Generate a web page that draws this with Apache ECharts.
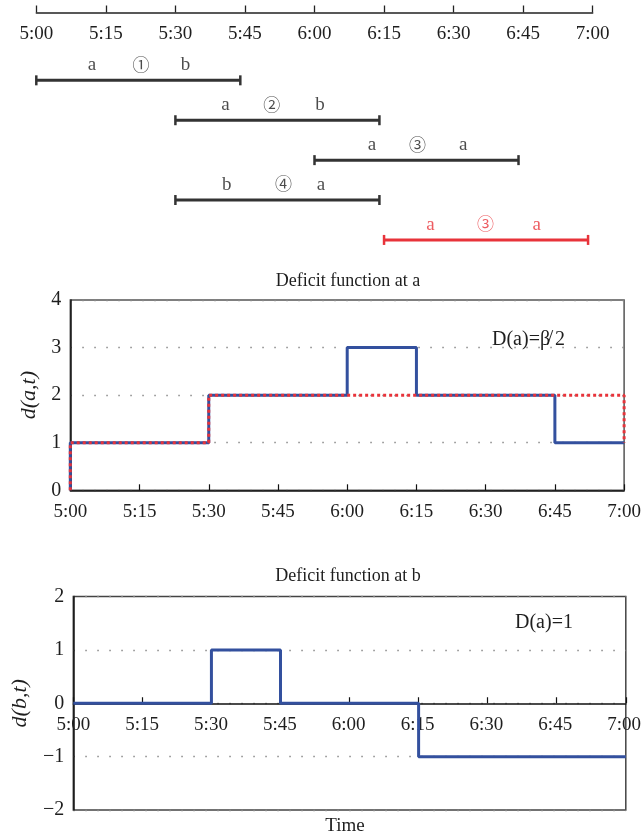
<!DOCTYPE html>
<html><head><meta charset="utf-8">
<script src="https://cdn.jsdelivr.net/npm/echarts@6/dist/echarts.min.js"></script>
<style>html,body{margin:0;padding:0;background:#fff}#c{width:644px;height:837px}</style>
</head><body><div id="c"></div>
<script>
// ---- data (minutes after 5:00) ----
const tickLabels = ['5:00','5:15','5:30','5:45','6:00','6:15','6:30','6:45','7:00'];
const tripStart = [0, 30, 60, 30, 75];
const tripEnd = [44, 74, 104, 74, 119];
const tripText = [['a','①','b'],['a','②','b'],['a','③','a'],['b','④','a'],['a','③','a']];
const tripTextAt = [[12,22.6,32.2],[40.8,50.8,61.2],[72.4,82.2,92.1],[41.1,53.3,61.4],[85,96.9,107.9]];
const tripHighlighted = [false,false,false,false,true];

const deficitA_t = [0, 0, 30, 60, 75, 105, 120];
const deficitA_v = [0, 1, 2, 3, 2, 1, 1];
const boundA_t = [0, 0, 30, 120, 120];
const boundA_v = [0, 1, 2, 2, 1];
const deficitB_t = [0, 30, 45, 75, 120];
const deficitB_v = [0, 1, 0, -1, -1];

// ---- style ----
const SERIF = "'Liberation Serif','DejaVu Serif',serif";
const CIRC = "'Noto Sans CJK JP','DejaVu Sans',sans-serif";
const BLUE = '#33509e', RED = '#e8333a', DARK = '#333', TXT = '#1e1e1e';

const pairs = (t, v) => t.map((x, i) => [x, v[i]]);
const timeFmt = v => tickLabels[Math.round(v / 15)] || '';

const series = [];
tripStart.forEach((s, i) => {
  const col = tripHighlighted[i] ? RED : DARK;
  series.push({
    type: 'line', xAxisIndex: 0, yAxisIndex: 0, silent: true, animation: false,
    data: [[s, i + 1], [tripEnd[i], i + 1]],
    symbol: 'rect', symbolSize: [2.5, 10], showSymbol: true,
    itemStyle: { color: col }, lineStyle: { color: col, width: 3 }
  });
  series.push({
    type: 'scatter', xAxisIndex: 0, yAxisIndex: 0, silent: true, animation: false,
    symbolSize: 1, itemStyle: { color: 'rgba(0,0,0,0)' },
    data: tripText[i].map((txt, k) => {
      const circ = /[①-⑳]/.test(txt);
      return {
        value: [tripTextAt[i][k], i + 1], name: txt,
        label: circ ? { fontFamily: CIRC, fontSize: 17, offset: [0, -16] } : {}
      };
    }),
    label: {
      show: true, position: 'inside', offset: [0, -15],
      formatter: p => p.name,
      color: tripHighlighted[i] ? RED : TXT,
      fontFamily: SERIF, fontSize: 19
    }
  });
});

series.push({
  type: 'line', xAxisIndex: 1, yAxisIndex: 1, step: 'end', symbol: 'none', animation: false,
  data: pairs(deficitA_t, deficitA_v), lineStyle: { color: BLUE, width: 3 }, z: 3
});
series.push({
  type: 'line', xAxisIndex: 1, yAxisIndex: 1, step: 'end', symbol: 'none', animation: false,
  data: pairs(boundA_t, boundA_v), lineStyle: { color: RED, width: 3, type: [3, 3] }, z: 4
});
series.push({
  type: 'line', xAxisIndex: 2, yAxisIndex: 2, step: 'end', symbol: 'none', animation: false,
  data: pairs(deficitB_t, deficitB_v), lineStyle: { color: BLUE, width: 3 }, z: 3
});

const dotted = { show: true, lineStyle: { color: '#8a8a8a', width: 1.3, type: [1.5, 10.5] } };
const labelStyle = { formatter: timeFmt, color: TXT, fontFamily: SERIF, fontSize: 19, margin: 12 };
const chartX = (idx, showLabels) => ({
  type: 'value', gridIndex: idx, min: 0, max: 120, interval: 15,
  axisLine: { show: true, onZero: true, lineStyle: { color: '#111', width: 1.5 } },
  axisTick: { show: true, inside: true, length: 6, lineStyle: { color: '#111', width: 1.2 } },
  axisLabel: Object.assign({ show: showLabels }, labelStyle),
  splitLine: { show: false }
});

const option = {
  backgroundColor: '#fff',
  animation: false,
  grid: [
    { left: 36.3, width: 556.4, top: 12.5, height: 239.4 },
    { left: 70.3, width: 555, top: 300, height: 190.3, show: true, borderColor: '#555', borderWidth: 1.5 },
    { left: 73.3, width: 552.5, top: 596.5, height: 213.5, show: true, borderColor: '#444', borderWidth: 1.5 },
    // upper half of the lower chart: carries the time labels under the zero line
    { left: 73.3, width: 552.5, top: 596.5, height: 106.75 }
  ],
  xAxis: [
    {
      type: 'value', gridIndex: 0, position: 'top', min: 0, max: 120, interval: 15,
      axisLine: { show: true, onZero: false, lineStyle: { color: '#222', width: 1.5 } },
      axisTick: { show: true, inside: false, length: 7, lineStyle: { color: '#222', width: 1.3 } },
      axisLabel: { inside: true, formatter: timeFmt, color: TXT, fontFamily: SERIF, fontSize: 19, margin: 12 },
      splitLine: { show: false }
    },
    chartX(1, true),
    chartX(2, false),
    {
      type: 'value', gridIndex: 3, min: 0, max: 120, interval: 15,
      axisLine: { show: false }, axisTick: { show: false },
      axisLabel: labelStyle, splitLine: { show: false }
    }
  ],
  yAxis: [
    { type: 'value', gridIndex: 0, inverse: true, min: -0.7, max: 5.3, show: false },
    {
      type: 'value', gridIndex: 1, min: 0, max: 4, interval: 1,
      axisLine: { show: true, lineStyle: { color: '#111', width: 1.5 } },
      axisTick: { show: false },
      axisLabel: { color: TXT, fontFamily: SERIF, fontSize: 20, margin: 9 },
      splitLine: dotted,
      name: 'd(a,t)', nameLocation: 'middle', nameGap: 30, nameRotate: 90,
      nameTextStyle: { fontFamily: SERIF, fontStyle: 'italic', fontSize: 22, color: TXT }
    },
    {
      type: 'value', gridIndex: 2, min: -2, max: 2, interval: 1,
      axisLine: { show: true, onZero: false, lineStyle: { color: '#111', width: 1.5 } },
      axisTick: { show: false },
      axisLabel: { color: TXT, fontFamily: SERIF, fontSize: 20, margin: 9,
        formatter: v => v < 0 ? '\u2212' + Math.abs(v) : String(v) },
      splitLine: dotted,
      name: 'd(b,t)', nameLocation: 'middle', nameGap: 42, nameRotate: 90,
      nameTextStyle: { fontFamily: SERIF, fontStyle: 'italic', fontSize: 22, color: TXT }
    },
    { type: 'value', gridIndex: 3, min: 0, max: 2, show: false }
  ],
  graphic: [
    { type: 'text', x: 348, y: 281, style: { text: 'Deficit function at a', font: "18px 'Liberation Serif'", fill: TXT, textAlign: 'center', textVerticalAlign: 'middle' } },
    { type: 'text', x: 348, y: 576, style: { text: 'Deficit function at b', font: "18px 'Liberation Serif'", fill: TXT, textAlign: 'center', textVerticalAlign: 'middle' } },
    { type: 'text', x: 492, y: 340, style: { text: 'D(a)=\u03B2\u0338 2', font: "20px 'Liberation Serif', 'DejaVu Serif'", fill: TXT, textAlign: 'left', textVerticalAlign: 'middle' } },
    { type: 'text', x: 515, y: 623, style: { text: 'D(a)=1', font: "20px 'Liberation Serif'", fill: TXT, textAlign: 'left', textVerticalAlign: 'middle' } },
    { type: 'text', x: 345, y: 826, style: { text: 'Time', font: "19px 'Liberation Serif'", fill: TXT, textAlign: 'center', textVerticalAlign: 'middle' } }
  ],
  series
};

const chart = echarts.init(document.getElementById('c'), null, { renderer: 'canvas' });
chart.setOption(option);
</script></body></html>
